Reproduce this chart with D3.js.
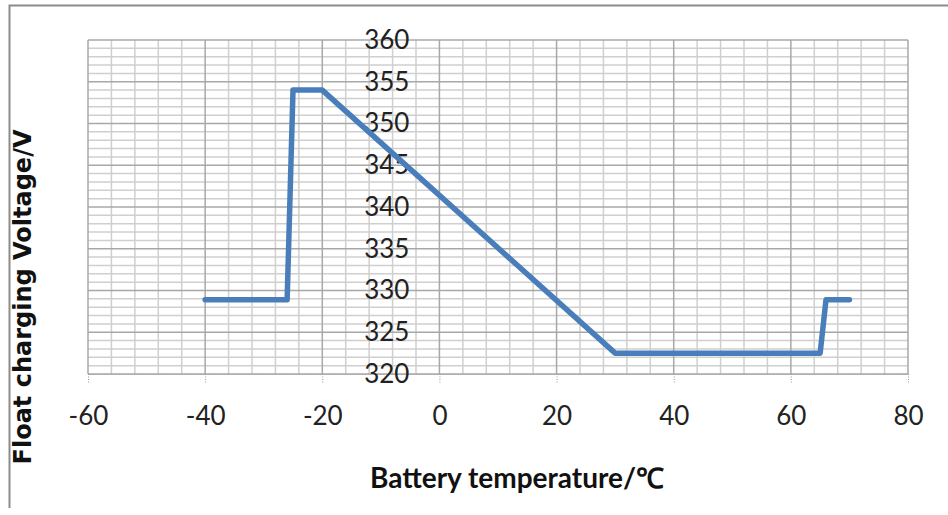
<!DOCTYPE html>
<html>
<head>
<meta charset="utf-8">
<script src="https://cdn.jsdelivr.net/npm/d3@7"></script>
<style>
  body { margin: 0; background: #fff; }
  svg { display: block; }
</style>
</head>
<body>
<div id="chart"></div>
<script>
// float charging voltage vs battery temperature
var temps = [-40, -26, -25, -20, 30, 65, 66, 70]
var volts = [328.9, 328.9, 354, 354, 322.5, 322.5, 328.9, 328.9]
var xTicks = [-60, -40, -20, 0, 20, 40, 60, 80]
var yTicks = [320, 325, 330, 335, 340, 345, 350, 355, 360]

var chart = {}
chart.width = 948
chart.height = 515
chart.left = 88
chart.right = 908
chart.top = 40
chart.bottom = 374

var svg = d3.select('#chart').append('svg')
  .attr('width', chart.width)
  .attr('height', chart.height)

// outer chart border (only top and left visible in the picture)
svg.append('path')
  .attr('d', 'M9.5,508 V5.5 H948')
  .attr('fill', 'none')
  .attr('stroke', '#8c8c8c')
  .attr('stroke-width', 2)

var x = d3.scaleLinear().domain([-60, 80]).range([chart.left, chart.right])
var y = d3.scaleLinear().domain([320, 360]).range([chart.bottom, chart.top])

var g = svg.append('g')

// minor grid
g.append('g').selectAll('line')
  .data(d3.range(-60, 80.1, 4).filter(function (d) { return d % 20 !== 0 }))
  .enter().append('line')
  .attr('x1', function (d) { return x(d) }).attr('x2', function (d) { return x(d) })
  .attr('y1', chart.top).attr('y2', chart.bottom)
  .attr('stroke', '#cfcfcf').attr('stroke-width', 1.5)
g.append('g').selectAll('line')
  .data(d3.range(320, 360.1, 1).filter(function (d) { return d % 5 !== 0 }))
  .enter().append('line')
  .attr('y1', function (d) { return y(d) }).attr('y2', function (d) { return y(d) })
  .attr('x1', chart.left).attr('x2', chart.right)
  .attr('stroke', '#cfcfcf').attr('stroke-width', 1.5)

// major grid
g.append('g').selectAll('line')
  .data(xTicks)
  .enter().append('line')
  .attr('x1', function (d) { return x(d) }).attr('x2', function (d) { return x(d) })
  .attr('y1', chart.top).attr('y2', chart.bottom)
  .attr('stroke', '#a8a8a8').attr('stroke-width', 1.5)
g.append('g').selectAll('line')
  .data(yTicks)
  .enter().append('line')
  .attr('y1', function (d) { return y(d) }).attr('y2', function (d) { return y(d) })
  .attr('x1', chart.left).attr('x2', chart.right)
  .attr('stroke', '#a8a8a8').attr('stroke-width', 1.5)

// x axis at the bottom, dotted ticks
var xAxis = d3.axisBottom(x).tickValues(xTicks).tickSize(10).tickSizeOuter(0)
  .tickFormat(function (d) { return d })
var gx = svg.append('g')
  .attr('transform', 'translate(0,' + chart.bottom + ')')
  .call(xAxis)
gx.select('.domain').attr('stroke', '#a8a8a8').attr('stroke-dasharray', '2,1')
gx.selectAll('.tick line').attr('stroke', '#999').attr('stroke-dasharray', '1,1.5')
gx.selectAll('text')
  .attr('font-family', 'Lato, sans-serif')
  .attr('font-size', 26)
  .attr('fill', '#222')
  .attr('dy', 0)
  .attr('y', 51)

// y axis crossing at x = 0, labels to the left
var yAxis = d3.axisLeft(y).tickValues(yTicks).tickSize(0)
  .tickFormat(function (d) { return d })
var gy = svg.append('g')
  .attr('transform', 'translate(' + x(0) + ',0)')
  .call(yAxis)
gy.select('.domain').remove()
gy.selectAll('text')
  .attr('font-family', 'Lato, sans-serif')
  .attr('font-size', 26)
  .attr('fill', '#222')
  .attr('x', -30)

// the curve
var line = d3.line()
  .x(function (d, i) { return x(temps[i]) })
  .y(function (d) { return y(d) })
svg.append('path')
  .datum(volts)
  .attr('d', line)
  .attr('fill', 'none')
  .attr('stroke', '#4a7ebb')
  .attr('stroke-width', 5.5)
  .attr('stroke-linejoin', 'round')
  .attr('stroke-linecap', 'round')

// axis titles
svg.append('text')
  .attr('x', 517).attr('y', 488)
  .attr('text-anchor', 'middle')
  .attr('font-family', 'Lato, sans-serif')
  .attr('font-weight', 'bold')
  .attr('font-size', 28)
  .attr('fill', '#111')
  .text('Battery temperature/\u2103')

svg.append('text')
  .attr('transform', 'translate(31,297) rotate(-90)')
  .attr('text-anchor', 'middle')
  .attr('font-family', 'DejaVu Sans, sans-serif')
  .attr('font-weight', 'bold')
  .attr('font-size', 24)
  .attr('fill', '#111')
  .text('Float charging Voltage/V')
</script>
</body>
</html>
